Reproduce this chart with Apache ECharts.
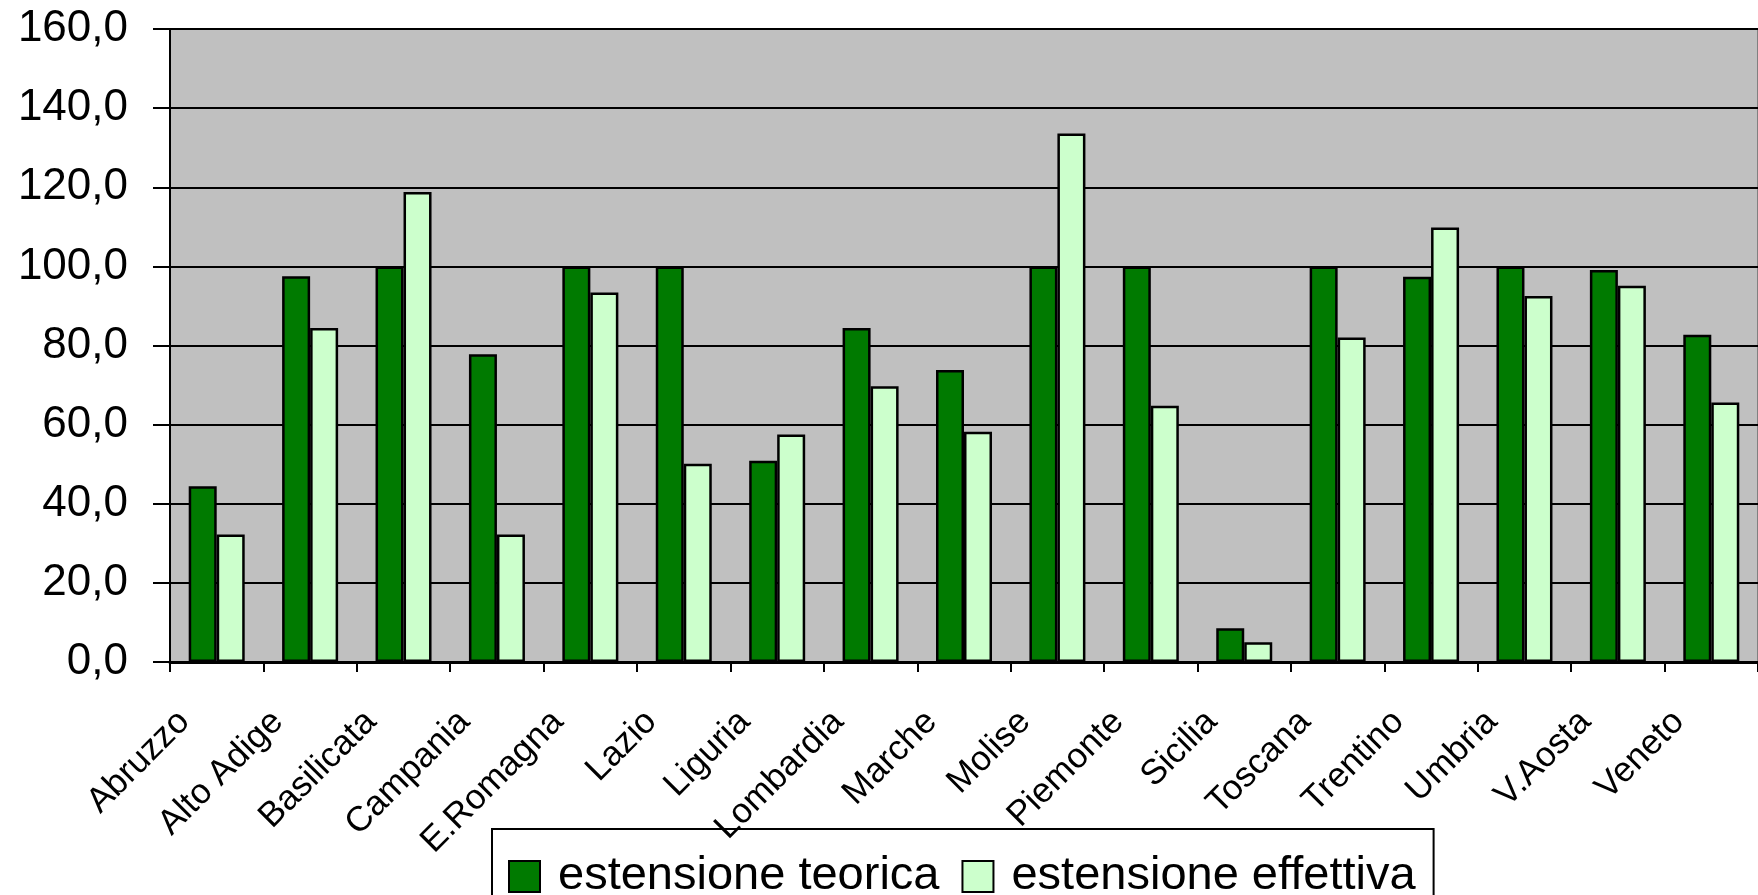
<!DOCTYPE html>
<html>
<head>
<meta charset="utf-8">
<script src="https://cdn.jsdelivr.net/npm/echarts@6/dist/echarts.min.js"></script>
<style>
html,body{margin:0;padding:0;background:#fff;}
#chart{width:1758px;height:895px;}
</style>
</head>
<body>
<div id="chart"></div>
<script>
const categories = ['Abruzzo','Alto Adige','Basilicata','Campania','E.Romagna','Lazio','Liguria','Lombardia','Marche','Molise','Piemonte','Sicilia','Toscana','Trentino','Umbria','V.Aosta','Veneto'];
const teorica =   [44.4, 97.5, 100, 77.8, 100, 100, 50.9, 84.4, 73.8, 100, 100, 8.5, 100, 97.4, 100, 99.1, 82.7];
const effettiva = [32.2, 84.4, 118.8, 32.2, 93.4, 50.1, 57.5, 69.7, 58.2, 133.6, 64.8, 5.0, 82.0, 109.8, 92.5, 95.1, 65.6];
const seriesNames = ['estensione teorica', 'estensione effettiva'];
const yMin = 0, yMax = 160, yStep = 20;

const chart = echarts.init(document.getElementById('chart'), null, {renderer: 'canvas'});
const font = "'Liberation Sans', Arial, sans-serif";
chart.setOption({
  animation: false,
  backgroundColor: '#ffffff',
  grid: {
    left: 170, top: 29, width: 1594, height: 633,
    show: true, backgroundColor: '#C0C0C0', borderColor: '#808080', borderWidth: 2
  },
  legend: {
    left: 492, top: 829,
    data: seriesNames,
    orient: 'horizontal',
    itemWidth: 31, itemHeight: 31, itemGap: 22,
    padding: [24, 18, 30, 16],
    borderColor: '#000', borderWidth: 2,
    backgroundColor: 'rgba(255,255,255,0)',
    icon: 'rect',
    itemStyle: {borderColor: '#000', borderWidth: 2},
    textStyle: {fontFamily: font, fontSize: 47, color: '#000', padding: [0, 0, 0, 13]}
  },
  xAxis: {
    type: 'category',
    data: categories,
    boundaryGap: true,
    axisLine: {show: true, lineStyle: {color: '#000', width: 3}},
    axisTick: {show: true, length: 10, lineStyle: {color: '#000', width: 2}},
    axisLabel: {
      rotate: 45, interval: 0, margin: 22,
      fontFamily: font, fontSize: 35, color: '#000',
      padding: [0, 46, 0, 0]
    },
    splitLine: {show: false}
  },
  yAxis: {
    type: 'value',
    min: yMin, max: yMax, interval: yStep,
    axisLine: {show: true, lineStyle: {color: '#000', width: 2}},
    axisTick: {show: true, length: 17, lineStyle: {color: '#000', width: 2}},
    axisLabel: {
      margin: 42, fontFamily: font, fontSize: 44, color: '#000',
      formatter: v => v.toFixed(1).replace('.', ',')
    },
    splitLine: {show: true, lineStyle: {color: '#000', width: 2}}
  },
  series: [
    {
      name: seriesNames[0], type: 'bar', data: teorica,
      barWidth: 28, barGap: '0%',
      itemStyle: {color: '#007A00', borderColor: '#000', borderWidth: 2.5}
    },
    {
      name: seriesNames[1], type: 'bar', data: effettiva,
      barWidth: 28, barGap: '0%',
      itemStyle: {color: '#CCFFCC', borderColor: '#000', borderWidth: 2.5}
    }
  ]
});
</script>
</body>
</html>
